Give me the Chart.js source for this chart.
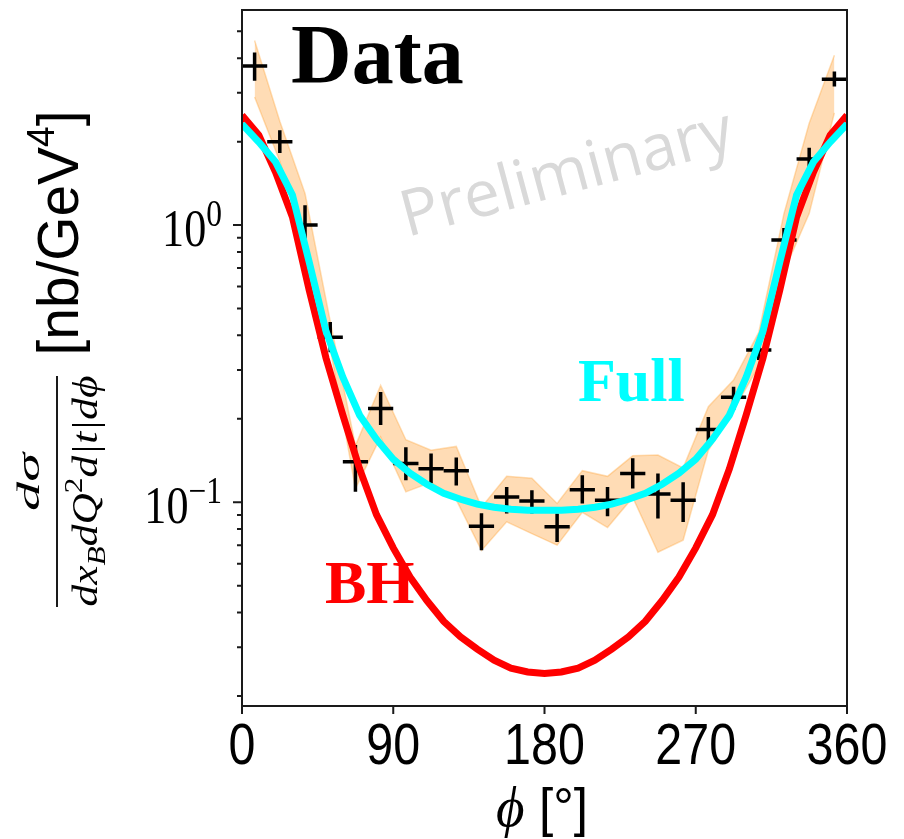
<!DOCTYPE html>
<html>
<head>
<meta charset="utf-8">
<title>Cross section vs phi</title>
<script src="https://cdn.jsdelivr.net/npm/chart.js@4.4.1/dist/chart.umd.min.js"></script>
<style>
  html, body { margin: 0; padding: 0; background: #fff; }
  #box { width: 904px; height: 839px; }
</style>
</head>
<body>
<div id="box"><canvas id="myChart"></canvas></div>
<script>
// phi bin centres [deg] and measured cross section [nb/GeV^4]
const phiBins = [7.5, 22.5, 37.5, 52.5, 67.5, 82.5, 97.5, 112.5, 127.5, 142.5, 157.5, 172.5,
                 187.5, 202.5, 217.5, 232.5, 247.5, 262.5, 277.5, 292.5, 307.5, 322.5, 337.5, 352.5];
const xsec   = [3.75, 2.00, 1.00, 0.394, 0.140, 0.218, 0.138, 0.132, 0.130, 0.0819, 0.1045, 0.101,
                0.0815, 0.111, 0.1017, 0.127, 0.107, 0.1017, 0.183, 0.239, 0.354, 0.883, 1.73, 3.36];
const xsecHi = [4.19, 2.20, 1.18, 0.447, 0.161, 0.250, 0.158, 0.150, 0.145, 0.0913, 0.1136, 0.1105,
                0.091, 0.125, 0.1136, 0.144, 0.127, 0.118, 0.203, 0.261, 0.384, 0.975, 1.90, 3.58];
const xsecLo = [3.32, 1.82, 0.812, 0.348, 0.109, 0.190, 0.120, 0.117, 0.115, 0.0671, 0.091, 0.091,
                0.0719, 0.0989, 0.089, 0.112, 0.0873, 0.0849, 0.163, 0.215, 0.326, 0.801, 1.56, 3.16];
const binHalf = 7.5;

// orange band
const bandHi = [4.63, 2.37, 1.30, 0.45, 0.160, 0.264, 0.168, 0.154, 0.159, 0.096, 0.124, 0.122,
                0.099, 0.130, 0.124, 0.147, 0.148, 0.133, 0.221, 0.276, 0.41, 1.10, 2.33, 4.1];
const bandLo = [2.90, 1.70, 0.84, 0.36, 0.112, 0.172, 0.109, 0.118, 0.102, 0.067, 0.085, 0.077,
                0.070, 0.092, 0.081, 0.104, 0.066, 0.073, 0.154, 0.215, 0.31, 0.68, 1.10, 2.54];

// model curves
const curvePhi = [0, 10, 20, 30, 40, 50, 60, 70, 80, 90, 100, 110, 120, 130, 140, 150, 160, 170, 180,
                  190, 200, 210, 220, 230, 240, 250, 260, 270, 280, 290, 300, 310, 320, 330, 340, 350, 360];
const bhCurve = [2.49, 2.11, 1.55, 1.07, 0.582, 0.331, 0.2065, 0.1318, 0.0902, 0.0684, 0.0537, 0.0442,
                 0.0372, 0.0327, 0.0295, 0.0269, 0.0252, 0.0244, 0.0241, 0.0244, 0.0252, 0.0269, 0.0295,
                 0.0327, 0.0372, 0.0442, 0.0537, 0.0684, 0.0902, 0.1318, 0.2065, 0.331, 0.582, 1.07,
                 1.55, 2.11, 2.49];
const fullCurve = [2.315, 1.993, 1.688, 1.283, 0.735, 0.414, 0.2827, 0.206, 0.1688, 0.1429, 0.1272,
                   0.1161, 0.1077, 0.1025, 0.0984, 0.0959, 0.0943, 0.0936, 0.0936, 0.0936, 0.0943,
                   0.0959, 0.0984, 0.1025, 0.1077, 0.1161, 0.1272, 0.1429, 0.1688, 0.206, 0.2827,
                   0.414, 0.735, 1.283, 1.688, 1.993, 2.315];

// axes
const xTicks = [0, 90, 180, 270, 360];
const yMajor = [0.1, 1];
const yMajorLabels = [['10', '\u22121'], ['10', '0']];
const yMinor = [0.02, 0.03, 0.04, 0.05, 0.06, 0.07, 0.08, 0.09,
                0.2, 0.3, 0.4, 0.5, 0.6, 0.7, 0.8, 0.9, 2, 3, 4, 5];

const serif = '"Liberation Serif", "Times New Roman", serif';
const sans = '"Liberation Sans", Arial, sans-serif';

const pts = (xs, ys) => xs.map((x, i) => ({x: x, y: ys[i]}));

function runsWidth(c, runs) {
  let w = 0;
  runs.forEach(r => { c.font = r.font; w += c.measureText(r.t).width; });
  return w;
}

// draw a list of text pieces one after another; sx/sy squeeze the text
function drawRuns(c, runs, x, base, sx, align, sy) {
  const w = runsWidth(c, runs);
  c.save();
  c.translate(x, base);
  c.scale(sx, sy || 1);
  let cur = align === 'right' ? -w : -w / 2;
  c.textAlign = 'left';
  c.textBaseline = 'alphabetic';
  runs.forEach(r => {
    c.font = r.font;
    c.fillText(r.t, cur, r.dy || 0);
    cur += c.measureText(r.t).width;
  });
  c.restore();
}

const overlay = {
  id: 'overlay',
  beforeDatasetsDraw(chart) {
    const c = chart.ctx;
    c.save();
    c.translate(407, 237);
    c.rotate(-15 * Math.PI / 180);
    c.font = '64px "Open Sans", sans-serif';
    c.fillStyle = '#d9d9d9';
    c.textBaseline = 'alphabetic';
    c.fillText('Preliminary', 0, 0);
    c.restore();
  },
  afterDatasetDraw(chart, args) {
    if (args.index !== 2) return;
    const c = chart.ctx;
    const xs = chart.scales.x, ys = chart.scales.y;
    c.save();
    c.strokeStyle = '#000';
    c.lineWidth = 3.5;
    phiBins.forEach((p, i) => {
      const y = ys.getPixelForValue(xsec[i]);
      c.beginPath();
      c.moveTo(xs.getPixelForValue(p - binHalf), y);
      c.lineTo(xs.getPixelForValue(p + binHalf), y);
      const x = xs.getPixelForValue(p);
      c.moveTo(x, ys.getPixelForValue(xsecHi[i]));
      c.lineTo(x, ys.getPixelForValue(xsecLo[i]));
      c.stroke();
    });
    c.restore();
  },
  afterDraw(chart) {
    const c = chart.ctx;
    const a = chart.chartArea;
    const xs = chart.scales.x, ys = chart.scales.y;
    c.save();
    // frame
    c.strokeStyle = '#1a1a1a';
    c.lineWidth = 2;
    c.strokeRect(a.left, a.top, a.right - a.left, a.bottom - a.top);
    // ticks
    c.beginPath();
    xTicks.forEach(v => {
      const x = xs.getPixelForValue(v);
      c.moveTo(x, a.bottom);
      c.lineTo(x, a.bottom + 8);
    });
    yMajor.forEach(v => {
      const y = ys.getPixelForValue(v);
      c.moveTo(a.left - 9, y);
      c.lineTo(a.left, y);
    });
    yMinor.forEach(v => {
      const y = ys.getPixelForValue(v);
      c.moveTo(a.left - 5, y);
      c.lineTo(a.left, y);
    });
    c.stroke();

    // tick labels
    c.fillStyle = '#000';
    xTicks.forEach(v => {
      drawRuns(c, [{t: String(v), font: '57px ' + sans}], xs.getPixelForValue(v), a.bottom + 58, 0.85, 'center');
    });
    yMajor.forEach((v, i) => {
      const lab = yMajorLabels[i];
      drawRuns(c, [{t: lab[0], font: '52px ' + serif},
                   {t: lab[1], font: '37px ' + serif, dy: -20}],
               a.left - 20, ys.getPixelForValue(v) + 21, 0.85, 'right');
    });

    // x title
    drawRuns(c, [{t: '\u03d5', font: 'italic 58px ' + serif},
                 {t: ' [\u00b0]', font: '54px ' + sans}], 542, 826, 0.95, 'center');

    // y title (rotated)
    c.save();
    c.rotate(-Math.PI / 2);
    const unitRuns = [{t: '[nb/GeV', font: '58px ' + sans},
                      {t: '4', font: '38px ' + sans, dy: -24},
                      {t: ']', font: '58px ' + sans}];
    drawRuns(c, unitRuns, -233, 78, 245 / runsWidth(c, unitRuns), 'center');
    const numRuns = [{t: 'd\u03c3', font: 'italic 40px ' + serif}];
    drawRuns(c, numRuns, -482, 39, 58 / runsWidth(c, numRuns), 'center', 0.8);
    const denRuns = [{t: 'dx', font: 'italic 36px ' + serif},
                     {t: 'B', font: 'italic 26px ' + serif, dy: 8},
                     {t: 'dQ', font: 'italic 36px ' + serif},
                     {t: '2', font: '26px ' + serif, dy: -15},
                     {t: 'd|t|d\u03d5', font: 'italic 36px ' + serif}];
    drawRuns(c, denRuns, -491, 97, 231 / runsWidth(c, denRuns), 'center');
    c.restore();
    c.beginPath();
    c.lineWidth = 2;
    c.moveTo(57, 376);
    c.lineTo(57, 607);
    c.stroke();

    // annotations
    c.textBaseline = 'alphabetic';
    c.textAlign = 'left';
    c.font = 'bold 84px ' + serif;
    c.fillStyle = '#000';
    c.fillText('Data', 291, 83);
    c.font = 'bold 62px ' + serif;
    c.fillStyle = '#00ffff';
    c.fillText('Full', 578, 401);
    c.fillStyle = '#ff0000';
    c.fillText('BH', 325, 603);
    c.restore();
  }
};

const ctx = document.getElementById('myChart').getContext('2d');
const myChart = new Chart(ctx, {
  type: 'line',
  data: {
    datasets: [
      {
        label: 'Full',
        data: pts(curvePhi, fullCurve),
        borderColor: '#00ffff',
        borderWidth: 7,
        pointRadius: 0,
        tension: 0,
        fill: false,
        clip: 0
      },
      {
        label: 'BH',
        data: pts(curvePhi, bhCurve),
        borderColor: '#ff0000',
        borderWidth: 7,
        pointRadius: 0,
        tension: 0,
        fill: false,
        clip: 0
      },
      {
        label: 'band upper',
        data: pts(phiBins, bandHi),
        borderColor: 'rgba(255,160,50,0.35)',
        backgroundColor: 'rgba(255,150,30,0.33)',
        borderWidth: 1.5,
        pointRadius: 0,
        tension: 0,
        fill: '+1',
        clip: 0
      },
      {
        label: 'band lower',
        data: pts(phiBins, bandLo),
        borderColor: 'rgba(255,160,50,0.35)',
        borderWidth: 1.5,
        pointRadius: 0,
        tension: 0,
        fill: false,
        clip: 0
      }
    ]
  },
  options: {
    responsive: true,
    maintainAspectRatio: false,
    animation: false,
    layout: { padding: { left: 242, right: 57, top: 10, bottom: 133 } },
    plugins: { legend: { display: false }, tooltip: { enabled: false } },
    scales: {
      x: { type: 'linear', min: 0, max: 360, display: false },
      y: { type: 'logarithmic', min: 0.0184, max: 5.97, display: false }
    }
  },
  plugins: [overlay]
});
</script>
</body>
</html>
